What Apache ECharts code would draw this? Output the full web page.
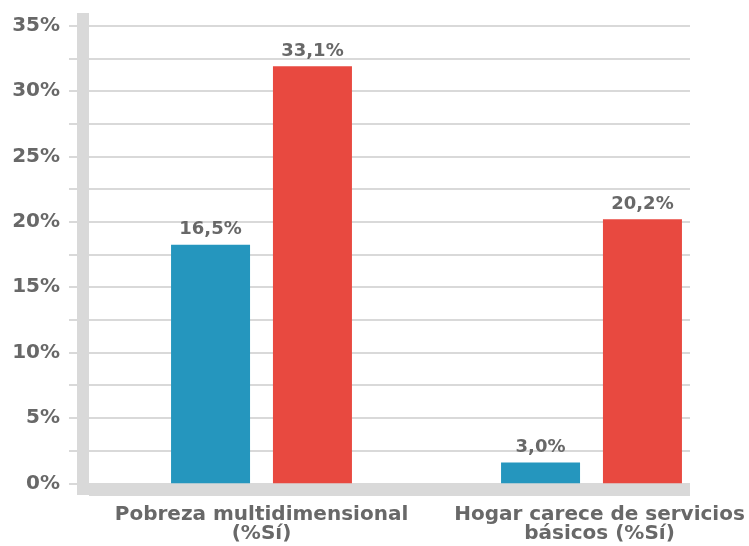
<!DOCTYPE html>
<html>
<head>
<meta charset="utf-8">
<script src="https://cdn.jsdelivr.net/npm/echarts@6/dist/echarts.min.js"></script>
<style>
  html, body { margin: 0; padding: 0; background: #fff; }
  #container { width: 749px; height: 546px; }
</style>
</head>
<body>
<div id="container"></div>
<script>
// categories and values
var categories = ["Pobreza multidimensional\n(%Sí)", "Hogar carece de servicios\nbásicos (%Sí)"];
// bar heights as drawn (the printed labels don't match the bars exactly)
var blueValues = [18.25, 1.6];
var redValues = [31.9, 20.2];
var blueLabels = ["16,5%", "3,0%"];
var redLabels = ["33,1%", "20,2%"];
var yTicks = [0, 5, 10, 15, 20, 25, 30, 35];

var gray = "#d9d9d9";
var textGray = "#686868";
var font = "'DejaVu Sans', sans-serif";

var chart = echarts.init(document.getElementById("container"));

var labelStyle = {
  color: textGray,
  fontFamily: font,
  fontWeight: "bold",
  fontSize: 20,
  lineHeight: 19
};

var option = {
  animation: false,
  grid: [
    // background grid: gridlines, y labels, bottom axis bar
    { left: 89, right: 59, top: 25.7, bottom: 62.7, outerBoundsMode: "none" },
    // bars
    { left: 96.5, right: -7.5, top: 25.7, bottom: 62.7, outerBoundsMode: "none" },
    // tall vertical axis bar
    { left: 89, right: 59, top: 13, bottom: 51, outerBoundsMode: "none" }
  ],
  xAxis: [
    {
      gridIndex: 0,
      type: "category",
      data: ["", ""],
      offset: 6,
      axisLine: { show: true, onZero: false, lineStyle: { color: gray, width: 12, cap: "butt" } },
      axisTick: { show: false },
      axisLabel: { show: false },
      splitLine: { show: false }
    },
    {
      gridIndex: 1,
      type: "category",
      data: categories,
      axisLine: { show: false },
      axisTick: { show: false },
      axisLabel: Object.assign({
        interval: 0,
        margin: 22,
        formatter: function (value, index) {
          if (index === 1) {
            return value.split("\n").map(function (s) { return "{s|" + s + "}"; }).join("\n");
          }
          return value;
        },
        rich: { s: Object.assign({ padding: [0, 0, 0, 16] }, labelStyle) }
      }, labelStyle)
    },
    {
      gridIndex: 2,
      type: "category",
      data: ["", ""],
      show: false
    }
  ],
  yAxis: [
    {
      gridIndex: 0,
      type: "value",
      min: yTicks[0],
      max: yTicks[yTicks.length - 1],
      interval: 5,
      axisLine: { show: false },
      axisTick: { show: true, length: 20, lineStyle: { color: gray, width: 2 } },
      minorTick: { show: true, splitNumber: 2, length: 20, lineStyle: { color: gray, width: 2 } },
      splitLine: { show: true, lineStyle: { color: gray, width: 2 } },
      minorSplitLine: { show: true, lineStyle: { color: gray, width: 2 } },
      axisLabel: {
        margin: 29,
        color: textGray,
        fontFamily: font,
        fontWeight: "bold",
        fontSize: 20,
        formatter: "{value}%"
      }
    },
    {
      gridIndex: 1,
      type: "value",
      min: 0,
      max: 35,
      interval: 5,
      show: false
    },
    {
      gridIndex: 2,
      type: "value",
      offset: 6,
      axisLine: { show: true, onZero: false, lineStyle: { color: gray, width: 12, cap: "butt" } },
      axisTick: { show: false },
      axisLabel: { show: false },
      splitLine: { show: false }
    }
  ],
  series: [
    {
      type: "bar",
      xAxisIndex: 1,
      yAxisIndex: 1,
      data: blueValues,
      barWidth: 79,
      barGap: "29%",
      itemStyle: { color: "#2596be" },
      label: {
        show: true,
        position: "top",
        distance: 6,
        color: textGray,
        fontFamily: font,
        fontWeight: "bold",
        fontSize: 18,
        formatter: function (p) { return blueLabels[p.dataIndex]; }
      }
    },
    {
      type: "bar",
      xAxisIndex: 1,
      yAxisIndex: 1,
      data: redValues,
      barWidth: 79,
      barGap: "29%",
      itemStyle: { color: "#e84940" },
      label: {
        show: true,
        position: "top",
        distance: 6,
        color: textGray,
        fontFamily: font,
        fontWeight: "bold",
        fontSize: 18,
        formatter: function (p) { return redLabels[p.dataIndex]; }
      }
    }
  ]
};

chart.setOption(option);
</script>
</body>
</html>
